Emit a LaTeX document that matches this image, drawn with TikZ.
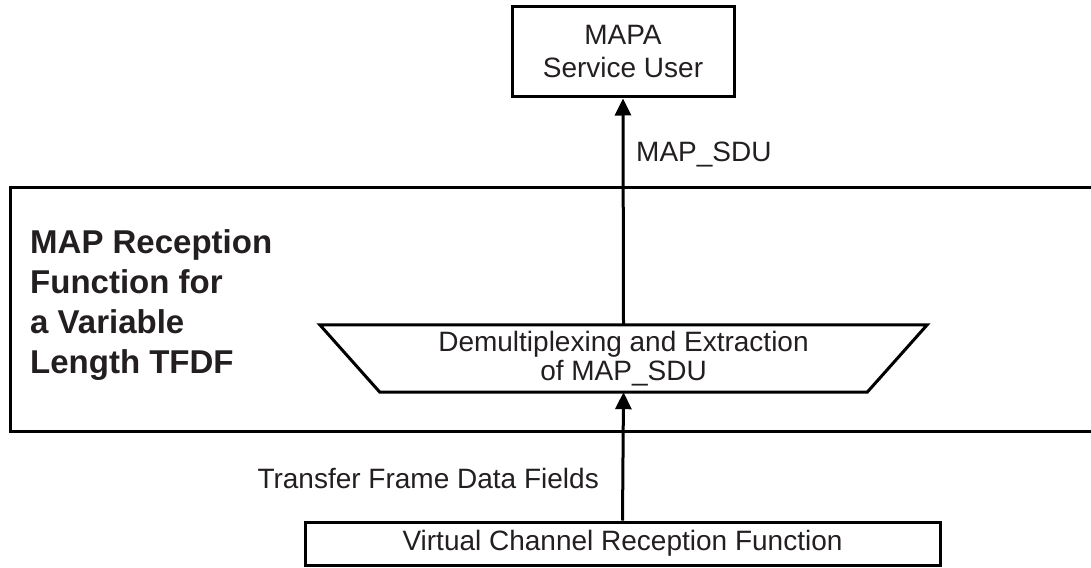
\documentclass[tikz,border=0pt]{standalone}
\usepackage{fontspec}
\setmainfont{Liberation Sans}
\usetikzlibrary{arrows.meta}
\definecolor{ink}{HTML}{231F20}
\begin{document}
\begin{tikzpicture}[x=1pt,y=-1pt,
  boxline/.style={line width=3pt,draw=black},
  txt/.style={text=ink,font=\fontsize{28}{33}\selectfont,inner sep=0pt},
  flow/.style={line width=3pt,-{Triangle[length=17pt,width=16pt]}}]
\useasboundingbox (0,0) rectangle (1091,567);
% outer function box (right side runs off the page)
\draw[boxline] (1100,187) -- (10,187) -- (10,431) -- (1100,431);
\node[txt,anchor=west,align=left,font=\bfseries\fontsize{33}{40}\selectfont] (title) at (30,305)
  {MAP Reception\\Function for\\a Variable\\Length TFDF};
% MAPA service user
\node[boxline,txt,align=center,minimum width=222pt,minimum height=90pt] (mapa) at (623,52)
  {MAPA\\Service User};
% demultiplexing trapezoid
\node[txt,align=center,font=\fontsize{28}{29}\selectfont,minimum width=487pt,minimum height=67pt] (demux) at (623.5,358.5)
  {Demultiplexing and Extraction\\of MAP\_SDU};
\draw[line width=3pt,line join=miter] ([xshift=-60pt]demux.north west) -- ([xshift=60pt]demux.north east)
  -- (demux.south east) -- (demux.south west) -- cycle;
% virtual channel reception function
\node[boxline,txt,minimum width=635pt,minimum height=43pt] (vc) at (622.5,543.5)
  {Virtual Channel Reception Function};
% connectors
\draw[flow] (demux.north) -- (mapa.south);
\draw[flow] (vc.north) -- (demux.south);
% labels
\node[txt,anchor=west] (sdu) at (636,155) {MAP\_SDU};
\node[txt,anchor=east] (tfdf) at (599,478) {Transfer Frame Data Fields};
\end{tikzpicture}
\end{document}
